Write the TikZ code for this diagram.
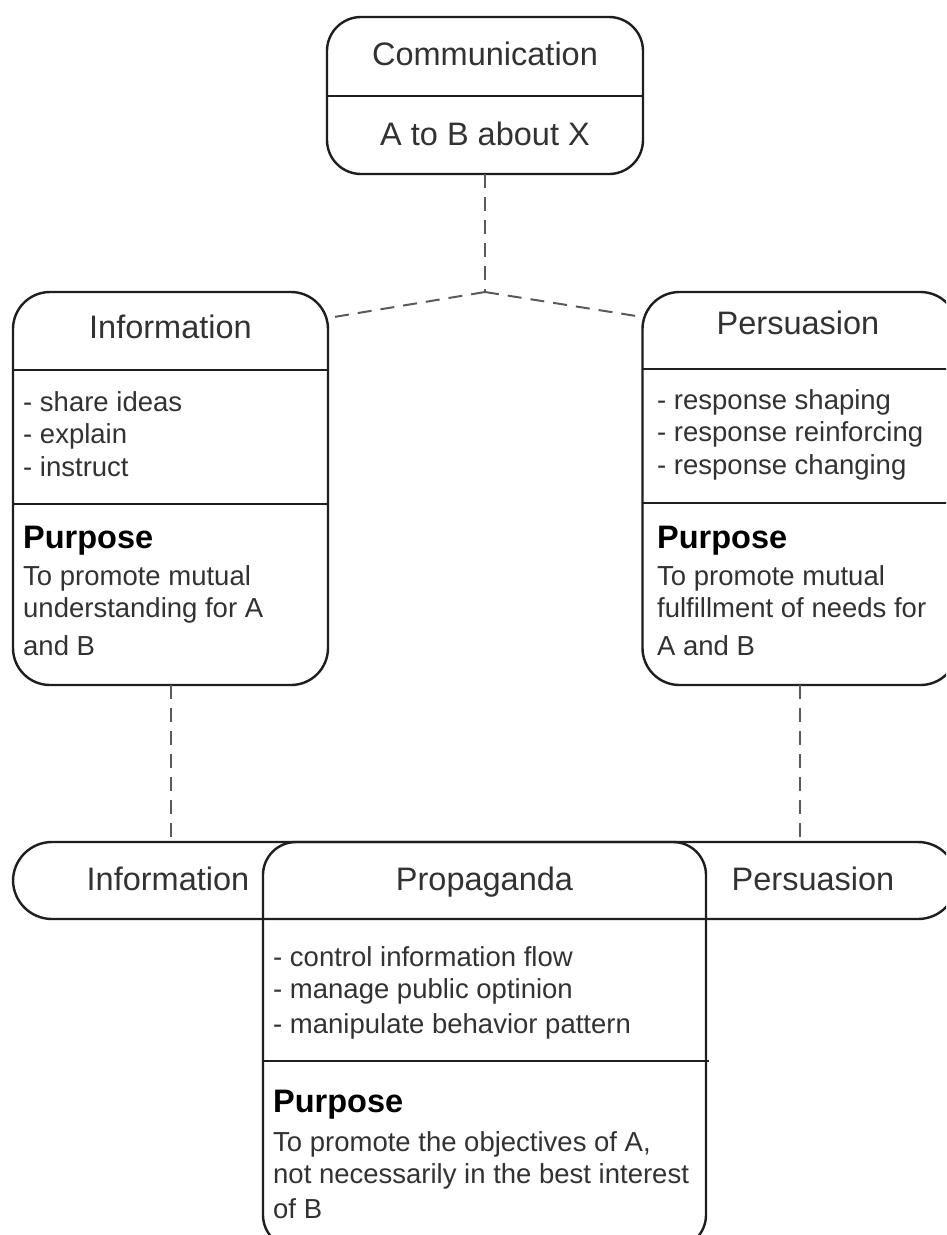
\documentclass[tikz,border=0pt]{standalone}
\usepackage{fontspec}
\setmainfont{Liberation Sans}
\usepackage{xcolor}
\definecolor{linecol}{RGB}{30, 30, 30}
\definecolor{dashcol}{RGB}{90, 90, 90}
\definecolor{txtcol}{RGB}{50, 50, 50}
\usepackage{tikz}
\usetikzlibrary{calc}
\newcommand\ttlfont{\fontsize{32.5}{39}\selectfont}
\newcommand\bdyfont{\fontsize{27.5}{32.5}\selectfont}

\begin{document}
\begin{tikzpicture}[
  x=1pt, y=-1pt,
  box/.style={draw=linecol, line width=2.4pt, rounded corners=34pt, outer sep=0pt, inner sep=0pt},
  divider/.style={draw=linecol, line width=2pt},
  link/.style={draw=dashcol, line width=2pt, dash pattern=on 14pt off 9pt},
  title/.style={font=\ttlfont, text=txtcol, inner sep=0pt, anchor=base},
  body/.style={font=\bdyfont, text=txtcol, align=left, inner sep=0pt, anchor=base west},
  purpose/.style={font=\ttlfont\bfseries, text=black, inner sep=0pt, anchor=base west}
]
\useasboundingbox (0,0) rectangle (946,1235);
\fill[white] (0,0) rectangle (946,1235);
\clip (0,0) rectangle (946,1235);

% boxes
\node[box, minimum width=316pt, minimum height=157pt] (comm) at (485,95.5) {};
\node[box, rounded corners=37pt, minimum width=315pt, minimum height=393pt] (info) at (170.5,488.5) {};
\node[box, rounded corners=37pt, minimum width=315pt, minimum height=393pt] (pers) at (800,488.5) {};
\node[box, rounded corners=39pt, minimum width=944pt, minimum height=77pt] (pill) at (485,880.5) {};
\node[box, rounded corners=33pt, minimum width=443pt, minimum height=406pt] (prop) at (484.5,1045) {};

% dividers
\draw[divider] (comm.west |- 0,96) -- (comm.east |- 0,96);
\draw[divider] (info.west |- 0,370) -- (info.east |- 0,370);
\draw[divider] (info.west |- 0,504) -- (info.east |- 0,504);
\draw[divider] (pers.west |- 0,369) -- (pers.east |- 0,369);
\draw[divider] (pers.west |- 0,503) -- (pers.east |- 0,503);
\draw[divider] (prop.west |- 0,1061) -- ([xshift=3pt]prop.east |- 0,1061);

% connectors
\coordinate (jn) at (485,292);
\draw[link] (comm.south) -- (jn);
\draw[link] (jn) -- (info.east |- 0,318);
\draw[link] (jn) -- (pers.west |- 0,317);
\draw[link] (info.south) -- (info.south |- pill.north);
\draw[link] (pers.south) -- (pers.south |- pill.north);

% Communication
\node[title] (commT) at (485,65) {Communication};
\node[title] (commS) at (485,145) {A to B about X};

% Information (multi-line texts sit on their last line)
\node[title] (infoT) at (170.5,338) {Information};
\node[body] (infoL) at (23,476) {- share ideas\\- explain\\- instruct};
\node[purpose] (infoP) at (23,548) {Purpose};
\node[body] (infoD) at (23,655) {To promote mutual\\understanding for A\\[5pt]and B};

% Persuasion
\node[title] (persT) at (798,334) {Persuasion};
\node[body] (persL) at (657,474) {- response shaping\\- response reinforcing\\- response changing};
\node[purpose] (persP) at (657,548) {Purpose};
\node[body] (persD) at (657,655) {To promote mutual\\fulfillment of needs for\\[5pt]A and B};

% Propaganda
\node[title] (pillI) at (168,890) {Information};
\node[title] (propT) at (484.5,890) {Propaganda};
\node[title] (pillP) at (813,890) {Persuasion};
\node[body] (propL) at (273,1033) {- control information flow\\- manage public optinion\\[2pt]- manipulate behavior pattern};
\node[purpose] (propP) at (273,1112) {Purpose};
\node[body] (propD) at (273,1218) {To promote the objectives of A,\\not necessarily in the best interest\\[2pt]of B};
\end{tikzpicture}
\end{document}
